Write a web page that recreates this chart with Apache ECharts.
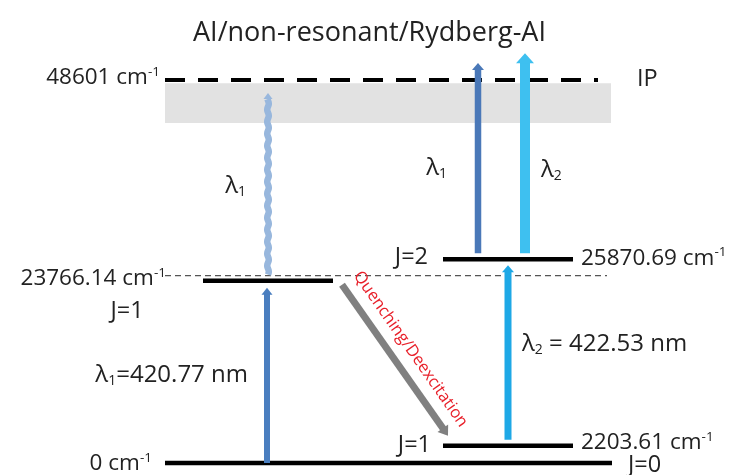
<!DOCTYPE html>
<html>
<head>
<meta charset="utf-8">
<script src="https://cdn.jsdelivr.net/npm/echarts@6/dist/echarts.min.js"></script>
<style>
  html, body { margin: 0; padding: 0; background: #fff; }
  #chart { width: 739px; height: 475px; }
</style>
</head>
<body>
<div id="chart"></div>
<script>
// ---- Al energy levels (cm^-1) ----
const levelNames = ['ground', 'lower', 'mid', 'upper', 'ip'];
const levelEnergies = [0, 2203.61, 23766.14, 25870.69, 48601];
const levelJ = ['J=0', 'J=1', 'J=1', 'J=2', 'IP'];

// ---- laser wavelengths (nm) ----
const laserNames = ['1', '2'];
const laserWavelengths = [420.77, 422.53];

// ---- transitions: start / end energy (cm^-1) ----
const transitionNames = ['exc1', 'nonres1', 'exc2', 'ion1', 'ion2', 'quench'];
const transitionFrom = [0, 23766.14, 2203.61, 25870.69, 25870.69, 23766.14];
const transitionTo = [23766.14, 46950, 25870.69, 50750, 52000, 2203.61];

// ---- Rydberg / autoionising band below the IP (cm^-1) ----
const bandLow = [43150];
const bandHigh = [48200];

const titleText = 'AI/non-resonant/Rydberg-AI';
const quenchText = 'Quenching/Deexcitation';

// ---------------- drawing styles & layout ----------------
const FONT = '"Open Sans", "Liberation Sans", sans-serif';
const INK = '#222222';

const rich = {
  t: { fontSize: 22.5, fontFamily: FONT, fill: INK, lineHeight: 25 },
  j: { fontSize: 23.5, fontFamily: FONT, fill: INK, lineHeight: 26 },
  l: { fontSize: 24, fontFamily: FONT, fill: INK, lineHeight: 26 },
  s: { fontSize: 13.5, fontFamily: FONT, fill: INK, lineHeight: 12, verticalAlign: 'top' },
  b: { fontSize: 14, fontFamily: FONT, fill: INK, lineHeight: 10, verticalAlign: 'bottom' }
};

function energyLabel(e) { return '{t|' + e + ' cm}{s|-1}'; }
function lambdaLabel(i, withValue, sep) {
  let s = '{l|λ}{b|' + laserNames[i] + '}';
  if (withValue) s += '{l|' + sep + laserWavelengths[i] + ' nm}';
  return s;
}

// x spans of the level bars and placement of their labels
const levelLayout = [
  { bars: [{ x0: 165, x1: 612, dy: 0, w: 4.5 }],
    labels: [{ x: 152, dy: 1, align: 'right', kind: 'energy' },
             { x: 628, dy: 2, align: 'left', kind: 'J' }] },
  { bars: [{ x0: 443, x1: 573, dy: 0, w: 4.5 }],
    labels: [{ x: 431, dy: 0, align: 'right', kind: 'J' },
             { x: 581, dy: -3, align: 'left', kind: 'energy' }] },
  { bars: [{ x0: 165, x1: 607, dy: 0, w: 1.3, dash: [6, 4], color: '#555555' },
           { x0: 203, x1: 333, dy: 5, w: 4.5 }],
    labels: [{ x: 166, dy: 3, align: 'right', kind: 'energy' },
             { x: 127, dy: 36, align: 'center', kind: 'J' }] },
  { bars: [{ x0: 443, x1: 573, dy: 0, w: 4.5 }],
    labels: [{ x: 428, dy: -2, align: 'right', kind: 'J' },
             { x: 581, dy: -1, align: 'left', kind: 'energy' }] },
  { bars: [{ x0: 165, x1: 598, dy: 0, w: 4, dash: [20, 13] }],
    labels: [{ x: 160, dy: -2, align: 'right', kind: 'energy' },
             { x: 637, dy: -1, align: 'left', kind: 'J' }] }
];

const bandLayout = { x0: 165, x1: 611, color: '#e2e2e2' };

// arrow geometry: x positions, pixel offsets at both ends, shaft width, head [width, length]
const arrowLayout = {
  exc1:    { x0: 267, x1: 267, off0: [0, 0], off1: [0, 12], width: 6, head: [11, 7], color: '#4a7ebf',
             label: { text: lambdaLabel(0, true, '='), dx: -19, dy: 0, align: 'right' } },
  nonres1: { x0: 268, x1: 268, off0: [0, -1], off1: [0, 0], width: 6.5, head: [9, 6], color: '#98b7dd', wavy: true,
             label: { text: lambdaLabel(0, false), dx: -22, dy: 2, align: 'right' } },
  exc2:    { x0: 508, x1: 508, off0: [0, -6], off1: [0, 6], width: 7, head: [12, 7], color: '#1ea8e6',
             label: { text: lambdaLabel(1, true, ' = '), dx: 14, dy: -8, align: 'left' } },
  ion1:    { x0: 478, x1: 478, off0: [0, -6], off1: [0, 0], width: 6.5, head: [12, 7], color: '#4a78b8',
             label: { text: lambdaLabel(0, false), dx: -31, dy: 10, align: 'right' } },
  ion2:    { x0: 525, x1: 525, off0: [0, -6], off1: [0, 0], width: 10, head: [18, 10], color: '#3ec0f0',
             label: { text: lambdaLabel(1, false), dx: 16, dy: 17, align: 'left' } },
  quench:  { x0: 342, x1: 448, off0: [0, 9], off1: [0, -10], width: 7, head: [13, 9], color: '#808080' }
};

// ---------------- render helpers ----------------
function textEl(x, y, text, align) {
  return {
    type: 'text', x: x, y: y,
    style: { text: text, rich: rich, align: align, verticalAlign: 'middle', fill: INK,
             fontFamily: FONT, fontSize: 21 }
  };
}

function renderLevel(params, api) {
  const i = api.value(0);
  const e = api.value(1);
  const L = levelLayout[i];
  const children = [];
  L.bars.forEach(function (b) {
    const pa = api.coord([b.x0, e]);
    const pb = api.coord([b.x1, e]);
    children.push({
      type: 'line',
      shape: { x1: pa[0], y1: pa[1] + b.dy, x2: pb[0], y2: pb[1] + b.dy },
      style: { stroke: b.color || '#000000', lineWidth: b.w, lineDash: b.dash || null }
    });
  });
  L.labels.forEach(function (lb) {
    const p = api.coord([lb.x, e]);
    const txt = lb.kind === 'energy' ? energyLabel(String(e)) : '{j|' + levelJ[i] + '}';
    children.push(textEl(p[0], p[1] + lb.dy, txt, lb.align));
  });
  return { type: 'group', children: children };
}

function renderBand(params, api) {
  const pTop = api.coord([bandLayout.x0, api.value(1)]);
  const pBot = api.coord([bandLayout.x1, api.value(0)]);
  return {
    type: 'rect',
    shape: { x: pTop[0], y: pTop[1], width: pBot[0] - pTop[0], height: pBot[1] - pTop[1] },
    style: { fill: bandLayout.color }
  };
}

function renderArrow(params, api) {
  const i = api.value(0);
  const A = arrowLayout[transitionNames[i]];
  const c0 = api.coord([A.x0, api.value(1)]);
  const c1 = api.coord([A.x1, api.value(2)]);
  const p0 = [c0[0] + A.off0[0], c0[1] + A.off0[1]];
  const p1 = [c1[0] + A.off1[0], c1[1] + A.off1[1]];
  const dx = p1[0] - p0[0], dy = p1[1] - p0[1];
  const len = Math.hypot(dx, dy);
  const ux = dx / len, uy = dy / len;
  const nx = -uy, ny = ux;
  const hw = A.head[0], hl = A.head[1];
  const bx = p1[0] - ux * hl, by = p1[1] - uy * hl;
  const children = [];

  if (A.wavy) {
    // slightly rippled shaft for the non-resonant step
    const pts = [];
    const shaftLen = len - hl + 1;
    for (let t = 0; t <= shaftLen; t += 1.5) {
      const a = Math.sin(t / 12 * 2 * Math.PI) * 0.8;
      pts.push([p0[0] + ux * t + nx * a, p0[1] + uy * t + ny * a]);
    }
    children.push({ type: 'polyline', shape: { points: pts },
                    style: { stroke: A.color, lineWidth: A.width, fill: null, lineJoin: 'round' } });
  } else {
    children.push({ type: 'line',
                    shape: { x1: p0[0], y1: p0[1], x2: bx + ux, y2: by + uy },
                    style: { stroke: A.color, lineWidth: A.width } });
  }
  children.push({ type: 'polygon',
                  shape: { points: [[p1[0], p1[1]], [bx + nx * hw / 2, by + ny * hw / 2], [bx - nx * hw / 2, by - ny * hw / 2]] },
                  style: { fill: A.color } });

  const mx = (p0[0] + p1[0]) / 2, my = (p0[1] + p1[1]) / 2;
  if (A.label) {
    children.push(textEl(mx + A.label.dx, my + A.label.dy, A.label.text, A.label.align));
  }
  if (transitionNames[i] === 'quench') {
    // caption runs along the arrow, on its upper-right side
    const off = 19;
    const sx = mx + uy * off, sy = my - ux * off;
    children.push({
      type: 'text', x: sx, y: sy, rotation: -Math.atan2(dy, dx),
      style: { text: quenchText, align: 'center', verticalAlign: 'middle', fill: '#e8202a',
               fontFamily: FONT, fontSize: 16.5 }
    });
  }
  return { type: 'group', children: children };
}

// ---------------- chart ----------------
const chart = echarts.init(document.getElementById('chart'), null, { renderer: 'canvas' });

chart.setOption({
  animation: false,
  backgroundColor: '#ffffff',
  title: {
    text: titleText, left: 'center', top: 15,
    textStyle: { fontFamily: FONT, fontSize: 27, fontWeight: 'normal', color: INK }
  },
  grid: { left: 0, right: 0, top: 80, bottom: 12 },
  xAxis: { type: 'value', min: 0, max: 739, show: false },
  yAxis: { type: 'value', min: 0, max: 48601, show: false },
  series: [
    {
      type: 'custom', name: 'band', z: 1, silent: true,
      renderItem: renderBand,
      encode: { x: -1, y: [0, 1] },
      data: bandLow.map(function (lo, k) { return [lo, bandHigh[k]]; })
    },
    {
      type: 'custom', name: 'levels', z: 2, silent: true,
      renderItem: renderLevel,
      encode: { x: 0, y: 1 },
      data: levelEnergies.map(function (e, k) { return [k, e]; })
    },
    {
      type: 'custom', name: 'transitions', z: 3, silent: true,
      renderItem: renderArrow,
      encode: { x: 0, y: [1, 2] },
      data: transitionNames.map(function (n, k) { return [k, transitionFrom[k], transitionTo[k]]; })
    }
  ]
});
</script>
</body>
</html>
